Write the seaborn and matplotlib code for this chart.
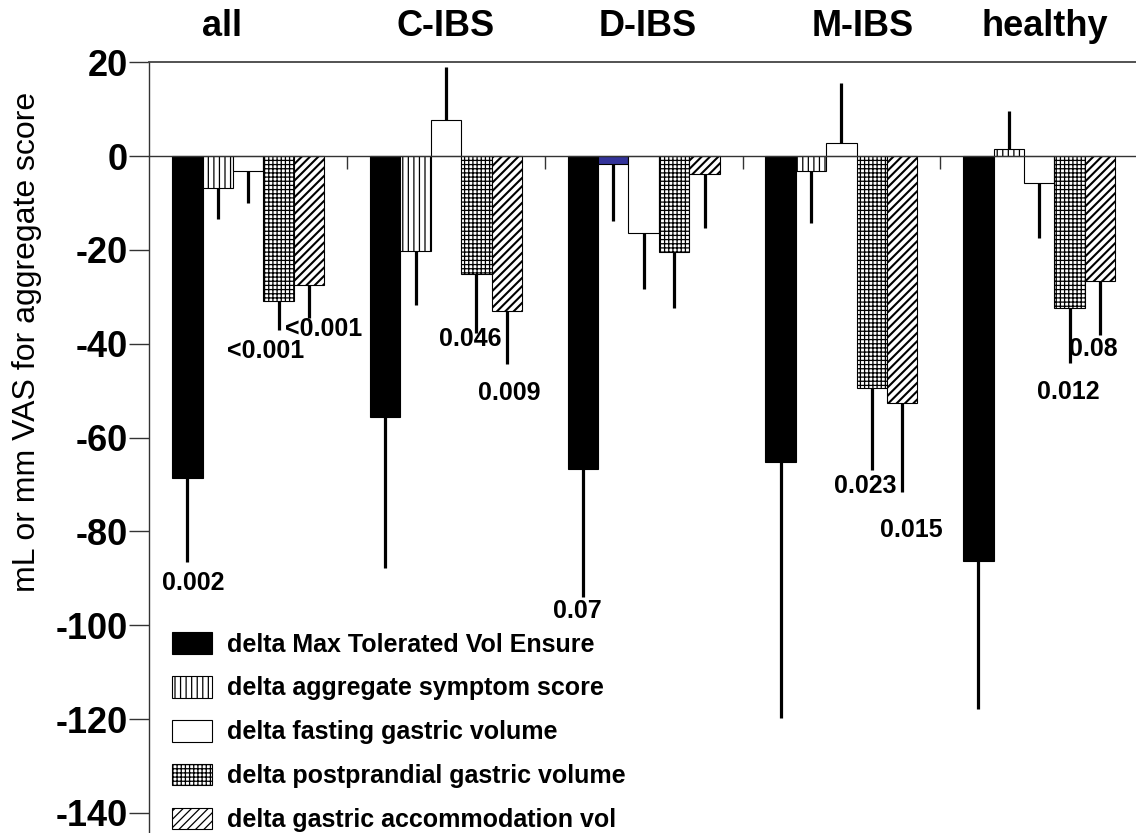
import numpy as np
import pandas as pd
import matplotlib
matplotlib.use("Agg")
import matplotlib.pyplot as plt
import matplotlib.transforms as mtransforms
from matplotlib.patches import Patch
import seaborn as sns

# ── data ──────────────────────────────────────────────────────────────────────
groups   = ["all", "C-IBS", "D-IBS", "M-IBS", "healthy"]
measures = ["delta Max Tolerated Vol Ensure",
            "delta aggregate symptom score",
            "delta fasting gastric volume",
            "delta postprandial gastric volume",
            "delta gastric accommodation vol"]

max_tol   = [-68.7, -55.6, -66.7, -65.3, -86.4]
symptom   = [-6.7, -20.3, -1.6, -3.1, 1.5]
fasting   = [-3.2, 7.8, -16.3, 2.9, -5.7]
postprand = [-30.8, -25.1, -20.4, -49.5, -32.4]
accommod  = [-27.5, -33.0, -3.8, -52.6, -26.6]

max_tol_err   = [17.9, 32.2, 27.2, 54.4, 31.4]
symptom_err   = [6.6, 11.4, 12.3, 11.2, 8.2]
fasting_err   = [6.8, 11.2, 12.1, 12.6, 11.8]
postprand_err = [6.2, 12.6, 12.0, 17.5, 11.6]
accommod_err  = [7.0, 11.4, 11.6, 19.0, 11.5]

p_values  = ["0.002", "<0.001", "<0.001", "0.046", "0.009",
             "0.07", "0.023", "0.015", "0.08", "0.012"]
p_groups  = ["all", "all", "all", "C-IBS", "C-IBS",
             "D-IBS", "M-IBS", "M-IBS", "healthy", "healthy"]
p_measure = [0, 3, 4, 3, 4, 0, 3, 4, 4, 3]

yticks = [20, 0, -20, -40, -60, -80, -100, -120, -140]

# ── layout / style ────────────────────────────────────────────────────────────
p_dx = [0.21, -0.43, 0.48, -0.19, 0.07, -0.19, -0.21, 0.29, -0.23, -0.03]  # bar widths
p_dy = [4.3, 4.5, 2.3, 1.3, 6.2, 3.0, 3.4, 8.2, 3.0, 6.2]                 # below error end
title_dx = [-0.86, 0.0, 0.14, 0.70, 0.19]                                  # bar widths

fills   = ["black", "white", "white", "white", "white"]
hatches = [None, "|||", None, "++++", "////"]

values = [max_tol, symptom, fasting, postprand, accommod]
errors = [max_tol_err, symptom_err, fasting_err, postprand_err, accommod_err]

rows = []
for m, vals in zip(measures, values):
    for g, v in zip(groups, vals):
        rows.append({"group": g, "measure": m, "value": v})
df = pd.DataFrame(rows)

sns.set_style("white")
plt.rcParams["font.family"] = ["Liberation Sans", "DejaVu Sans"]
plt.rcParams["axes.unicode_minus"] = False
plt.rcParams["hatch.linewidth"] = 0.9
for key in ["text.color", "axes.labelcolor", "xtick.color", "ytick.color"]:
    plt.rcParams[key] = "black"

W, H = 1136, 833
fig = plt.figure(figsize=(W / 100, H / 100), dpi=100)
ax = fig.add_axes([149.3 / W, 0, 988.75 / W, 770.7 / H])

group_width = 0.769
bw = group_width / len(measures)

sns.barplot(data=df, x="group", y="value", hue="measure",
            order=groups, hue_order=measures,
            palette=dict(zip(measures, fills)), saturation=1,
            width=group_width, edgecolor="black", linewidth=0.8,
            errorbar=None, legend=False, ax=ax, zorder=2)

for cont, hatch in zip(ax.containers, hatches):
    for bar in cont:
        if hatch:
            bar.set_hatch(hatch)
            if hatch == "////" and hasattr(bar, "set_hatch_linewidth"):
                bar.set_hatch_linewidth(1.5)

# the D-IBS symptom bar is drawn solid blue in the original
ax.containers[1][2].set_facecolor("#33339a")
ax.containers[1][2].set_hatch(None)

# one-sided error bars
for cont, vals, errs in zip(ax.containers, values, errors):
    xs = [b.get_x() + b.get_width() / 2 for b in cont]
    lower = [e if v < 0 else 0 for v, e in zip(vals, errs)]
    upper = [e if v >= 0 else 0 for v, e in zip(vals, errs)]
    ax.errorbar(xs, vals, yerr=[lower, upper], fmt="none",
                ecolor="black", elinewidth=2.3, capsize=0, zorder=3)

# p-values
for txt, g, mi, dx, dy in zip(p_values, p_groups, p_measure, p_dx, p_dy):
    gi = groups.index(g)
    bar = ax.containers[mi][gi]
    x = bar.get_x() + bar.get_width() / 2 + dx * bw
    y = values[mi][gi] - errors[mi][gi] - dy
    ax.text(x, y, txt, ha="center", va="center", fontsize=18,
            fontweight="bold", zorder=4)

# group titles above the frame
trans = mtransforms.blended_transform_factory(ax.transData, ax.transAxes)
for gi, (g, dx) in enumerate(zip(groups, title_dx)):
    ax.text(gi + dx * bw, 1.047, g, transform=trans, ha="center", va="center",
            fontsize=26, fontweight="bold", clip_on=False)

# axes
ax.set_xlim(-0.5, 4.5)
ax.set_ylim(-144.3, 20)
ax.set_yticks(yticks)
ax.set_yticklabels([str(t) for t in yticks], fontsize=26, fontweight="bold")
ax.set_xticks([0.5, 1.5, 2.5, 3.5])
ax.set_xticklabels([])
ax.set_xlabel("")
ax.tick_params(axis="y", direction="out", length=14.4, width=1, pad=1,
               color="#333333", left=True)
ax.tick_params(axis="x", direction="out", length=9.4, width=1,
               color="#333333", bottom=True, labelbottom=False)

ax.spines["bottom"].set_position(("data", 0))
ax.spines["bottom"].set_color("#333333")
ax.spines["bottom"].set_linewidth(1)
ax.spines["left"].set_color("#333333")
ax.spines["left"].set_linewidth(1)
ax.spines["top"].set_color("#444444")
ax.spines["top"].set_linewidth(1.3)
ax.spines["right"].set_visible(False)

ax.set_ylabel("mL or mm VAS for aggregate score", fontsize=23)
ax.yaxis.set_label_coords(-0.109, 0.637)

# legend
handles = [Patch(facecolor=f, edgecolor="black", hatch=h, linewidth=0.8)
           for f, h in zip(fills, hatches)]
ax.legend(handles, measures, loc="upper left",
          bbox_to_anchor=(0.0227, 0.2605), frameon=False,
          prop={"weight": "bold", "size": 18},
          handlelength=1.6, handleheight=0.95, handletextpad=0.62,
          labelspacing=0.78, borderpad=0, borderaxespad=0)

fig.savefig("out.png", dpi=100)
